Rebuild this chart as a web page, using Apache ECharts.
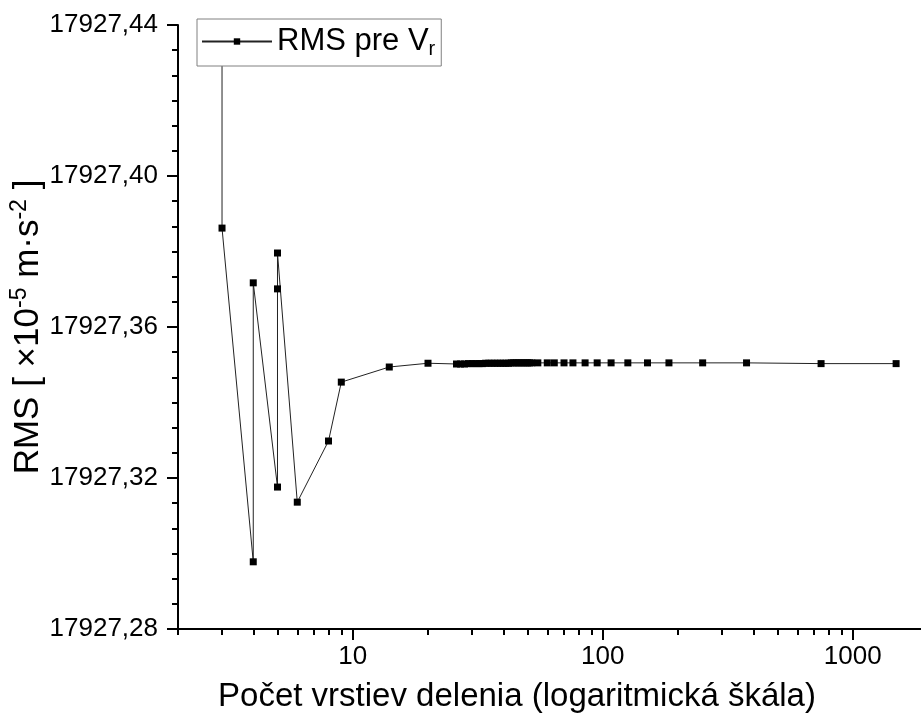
<!DOCTYPE html>
<html>
<head>
<meta charset="utf-8">
<script src="https://cdn.jsdelivr.net/npm/echarts@6/dist/echarts.min.js"></script>
<style>
html,body{margin:0;padding:0;background:#fff;}
#chart{width:921px;height:722px;}
</style>
</head>
<body>
<div id="chart"></div>
<script>
// ---- data ----
const layers = [3, 3, 4, 4, 5, 5, 5, 6, 8, 9, 14, 20,
  26, 27, 28, 29, 30, 31, 32, 33, 34, 35, 36, 37, 38, 39, 40,
  41, 42, 43, 44, 45, 46, 47, 48, 49, 50, 51, 52,
  55, 60, 64, 70, 76, 85, 95, 108, 126, 151, 184, 251, 376, 747, 1491];
const rms = [17927.50, 17927.3862, 17927.2978, 17927.3717, 17927.3176, 17927.3701, 17927.3796, 17927.3136, 17927.3298, 17927.3454, 17927.3494, 17927.3504,
  17927.3502, 17927.3502, 17927.3502, 17927.3503, 17927.3503, 17927.3503, 17927.3503, 17927.3503, 17927.3504, 17927.3504, 17927.3504, 17927.3504, 17927.3504, 17927.3504, 17927.3504,
  17927.3504, 17927.3504, 17927.3505, 17927.3505, 17927.3505, 17927.3505, 17927.3505, 17927.3505, 17927.3505, 17927.3505, 17927.3505, 17927.3505,
  17927.3505, 17927.3505, 17927.3505, 17927.3505, 17927.3505, 17927.3505, 17927.3505, 17927.3505, 17927.3505, 17927.3505, 17927.3505, 17927.3505, 17927.3505, 17927.3503, 17927.3503];
const xMajorTicks = [10, 100, 1000];
const xMinorTicks = [2, 3, 4, 5, 6, 7, 8, 9, 20, 30, 40, 50, 60, 70, 80, 90, 200, 300, 400, 500, 600, 700, 800, 900];
const yMin = 17927.28, yMax = 17927.44, yStep = 0.04;
const xMin = 2, xMax = 2000;
const seriesName = 'RMS pre V';
const seriesSub = 'r';
const xTitle = 'Počet vrstiev delenia (logaritmická škála)';

const font = 'Liberation Sans, Arial, sans-serif';
const chart = echarts.init(document.getElementById('chart'), null, {renderer: 'canvas'});

const points = layers.map((x, i) => [x, rms[i]]);

chart.setOption({
  animation: false,
  backgroundColor: '#fff',
  grid: {left: 178, top: 25, right: -7, bottom: 93, containLabel: false, outerBoundsMode: 'none'},
  legend: {
    show: true,
    left: 197, top: 19,
    data: [seriesName],
    orient: 'horizontal',
    padding: [7, 6, 7, 4],
    itemWidth: 70, itemHeight: 8, itemGap: 8,
    backgroundColor: '#fff',
    borderColor: '#808080', borderWidth: 1, borderRadius: 0,
    formatter: name => '{a|' + name + '}{s|' + seriesSub + '}',
    textStyle: {
      fontFamily: font, color: '#000',
      rich: {
        a: {fontSize: 31, fontFamily: font, color: '#000', lineHeight: 35},
        s: {fontSize: 20, fontFamily: font, color: '#000', verticalAlign: 'bottom', lineHeight: 14}
      }
    }
  },
  xAxis: [{
    type: 'log', logBase: 10, min: xMin, max: xMax,
    position: 'bottom',
    name: xTitle, nameLocation: 'middle', nameGap: 51, nameMoveOverlap: false,
    nameTextStyle: {fontFamily: font, fontSize: 33, color: '#000', padding: [0, 72, 0, 0]},
    axisLine: {show: true, lineStyle: {color: '#000', width: 2}},
    axisTick: {show: true, inside: false, length: 11, lineStyle: {color: '#000', width: 2}, customValues: xMajorTicks},
    axisLabel: {show: true, fontFamily: font, fontSize: 26, color: '#000', margin: 15, customValues: xMajorTicks,
      formatter: v => String(Math.round(v))},
    splitLine: {show: false},
    minorTick: {show: false}
  }, {
    type: 'log', logBase: 10, min: xMin, max: xMax,
    position: 'bottom', offset: 0,
    axisLine: {show: false},
    axisTick: {show: true, inside: false, length: 6, lineStyle: {color: '#000', width: 2}, customValues: xMinorTicks},
    axisLabel: {show: false},
    splitLine: {show: false}
  }],
  yAxis: {
    type: 'value', min: yMin, max: yMax, interval: yStep,
    name: '{n|RMS [ ×10}{p|-5}{n| m·s}{p|-2}{n| ]}',
    nameLocation: 'middle', nameGap: 130, nameRotate: 90, nameMoveOverlap: false,
    nameTextStyle: {
      fontFamily: font, color: '#000',
      rich: {
        n: {fontSize: 35, fontFamily: font, color: '#000', lineHeight: 40},
        p: {fontSize: 23, fontFamily: font, color: '#000', verticalAlign: 'top', lineHeight: 22}
      }
    },
    axisLine: {show: true, lineStyle: {color: '#000', width: 2}},
    axisTick: {show: true, inside: false, length: 11, lineStyle: {color: '#000', width: 2}},
    minorTick: {show: true, splitNumber: 6, length: 6, lineStyle: {color: '#000', width: 2}},
    axisLabel: {fontFamily: font, fontSize: 26, color: '#000', margin: 20,
      formatter: v => v.toFixed(2).replace('.', ',')},
    splitLine: {show: false}
  },
  series: [{
    name: seriesName,
    type: 'line',
    xAxisIndex: 0,
    data: points,
    clip: true,
    symbol: 'rect', symbolSize: 7,
    showAllSymbol: true,
    itemStyle: {color: '#000', borderWidth: 0},
    lineStyle: {color: '#222', width: 1},
    emphasis: {disabled: true}
  }]
});
</script>
</body>
</html>
